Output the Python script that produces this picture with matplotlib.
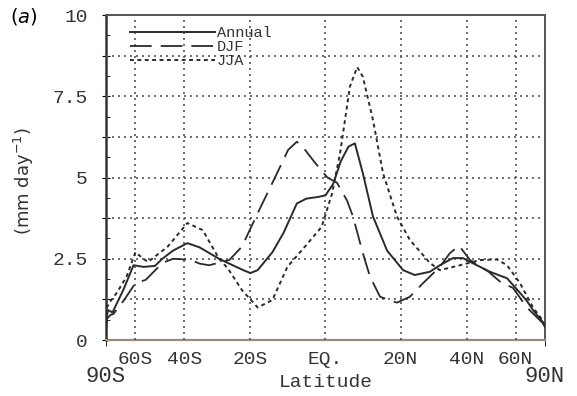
import numpy as np
import matplotlib
matplotlib.use("Agg")
import matplotlib.pyplot as plt

# latitudes (deg, S negative) and precipitation (mm/day)
lat_annual = [-90, -85, -82, -76, -67, -61, -56, -51, -48, -44, -39, -35, -29, -26, -22,
              -20, -18, -14, -11, -7.5, -5, -2, 0, 2, 4, 6, 7.7, 9.8, 12.5, 16.3, 20.7,
              24, 28.4, 31.4, 35.5, 38.8, 42, 48.5, 55.8, 62.4, 66.6, 71, 82, 90]
annual = [0.3, 0.75, 0.92, 0.85, 1.55, 2.3, 2.25, 2.28, 2.5, 2.75, 2.98, 2.85, 2.5, 2.35, 2.15,
          2.06, 2.15, 2.7, 3.3, 4.2, 4.35, 4.4, 4.45, 4.8, 5.5, 5.95, 6.05, 5.13, 3.8, 2.75, 2.15,
          2.0, 2.1, 2.3, 2.52, 2.52, 2.37, 2.1, 1.9, 1.45, 1.2, 0.92, 0.55, 0.4]

lat_djf = [-90, -85, -78, -75, -70, -67, -60, -55, -48, -44, -38, -35, -32, -29, -26,
           -22.4, -18, -13.3, -9.8, -7.5, -6, -2.7, 0.5, 3, 5.6, 7.2, 9.8, 11.7, 14.4, 19,
           22.6, 26.4, 31.4, 34.5, 37.5, 41.2, 48, 52.6, 58.7, 66.6, 82, 90]
djf = [0.4, 0.65, 0.78, 0.8, 1.05, 1.2, 1.75, 1.85, 2.37, 2.5, 2.47, 2.35, 2.3, 2.38, 2.46,
       2.87, 3.9, 5.0, 5.85, 6.1, 5.95, 5.45, 5.0, 4.84, 4.3, 3.8, 2.67, 1.95, 1.33, 1.15,
       1.33, 1.75, 2.25, 2.67, 2.9, 2.46, 2.1, 1.8, 1.6, 1.0, 0.52, 0.35]

lat_jja = [-90, -84.5, -80, -72, -65, -60, -57, -54, -46, -39, -34, -29, -26.4, -22.4, -18,
           -14, -10, -5.4, -1, 1.7, 3.8, 6.4, 8.3, 9.8, 12.5, 15.2, 19, 22.6, 28.4, 31.4,
           37.8, 44.7, 51.4, 55.8, 62.4, 71, 82, 90]
jja = [0.3, 1.0, 1.15, 1.45, 1.95, 2.7, 2.55, 2.4, 2.87, 3.6, 3.38, 2.5, 2.2, 1.54, 1.0,
       1.23, 2.25, 2.87, 3.48, 4.5, 5.74, 7.8, 8.4, 8.1, 6.77, 5.13, 3.8, 3.08, 2.37, 2.15,
       2.3, 2.46, 2.48, 2.3, 1.75, 1.0, 0.6, 0.35]

tick_lats = [-60, -40, -20, 0, 20, 40, 60]
tick_labels = ['60S', '40S', '20S', 'EQ.', '20N', '40N', '60N']
end_lats = [-90, 90]
end_labels = ['90S', '90N']
y_ticks = [0, 1.25, 2.5, 3.75, 5, 6.25, 7.5, 8.75, 10]
y_labels = ['0', '', '2.5', '', '5', '', '7.5', '', '10']


def sinlat(lats):
    return np.sin(np.radians(lats))


mono = 'Liberation Mono'
ink = '#2a2a2a'
fig = plt.figure(figsize=(5.77, 3.96), dpi=100)
ax = fig.add_axes([0.1837, 0.1414, 0.7608, 0.8207])

ax.set_xlim(-1, 1)
ax.set_ylim(0, 10)

# dotted grid at the tick positions (line collections)
ax.hlines(y_ticks[1:-1], -1, 1, colors='#555555', linewidths=1.2,
          linestyles=(0, (1.2, 2.4)), zorder=2.8)
ax.vlines(sinlat(tick_lats), 0, 10, colors='#555555', linewidths=1.2,
          linestyles=(0, (1.2, 2.4)), zorder=2.8)

ax.plot(sinlat(lat_annual), annual, color=ink, lw=1.4, label='Annual', zorder=3)
ax.plot(sinlat(lat_djf), djf, color=ink, lw=1.3, dashes=(12, 5), label='DJF', zorder=3)
ax.plot(sinlat(lat_jja), jja, color=ink, lw=1.4, dashes=(2, 1.8), label='JJA', zorder=3)

ax.set_xticks(sinlat(tick_lats))
ax.set_xticklabels(tick_labels, family=mono, fontsize=14)
ax.set_xticks(sinlat(end_lats), minor=True)
ax.set_xticklabels(end_labels, minor=True, family=mono, fontsize=16)
ax.tick_params(axis='x', which='major', length=0, pad=8, labelcolor='#333333')
ax.tick_params(axis='x', which='minor', length=4, pad=15, labelcolor='#333333')

ax.set_yticks(y_ticks)
ax.set_yticklabels(y_labels, family=mono, fontsize=14)
ax.set_yticks(np.arange(0, 10.01, 0.625), minor=True)
ax.tick_params(axis='y', which='major', direction='inout', length=6, pad=10, labelcolor='#333333')
ax.tick_params(axis='y', which='minor', direction='in', length=3)

for s in ['top', 'right']:
    ax.spines[s].set_edgecolor('#555555')
    ax.spines[s].set_linewidth(1.4)
ax.spines['left'].set_edgecolor('#333333')
ax.spines['left'].set_linewidth(1.8)
ax.spines['bottom'].set_edgecolor('#9a8a78')
ax.spines['bottom'].set_linewidth(1.6)

ax.set_xlabel('Latitude', family=mono, fontsize=14, color='#333333')
ax.xaxis.set_label_coords(0.5, -0.105)
ax.set_ylabel('(mm day$^{-1}$)', fontsize=13, color='#333333')
ax.yaxis.set_label_coords(-0.16, 0.49)

leg = ax.legend(loc='upper left', bbox_to_anchor=(0.04, 0.985), frameon=False,
                prop={'family': mono, 'size': 11}, handlelength=5.6,
                handletextpad=0.1, labelspacing=0.0, borderaxespad=0)
for t in leg.get_texts():
    t.set_color('#333333')

fig.text(0.017, 0.958, '($\\mathit{a}$)', fontsize=14, va='center', ha='left')

plt.savefig('out.png', dpi=100)
